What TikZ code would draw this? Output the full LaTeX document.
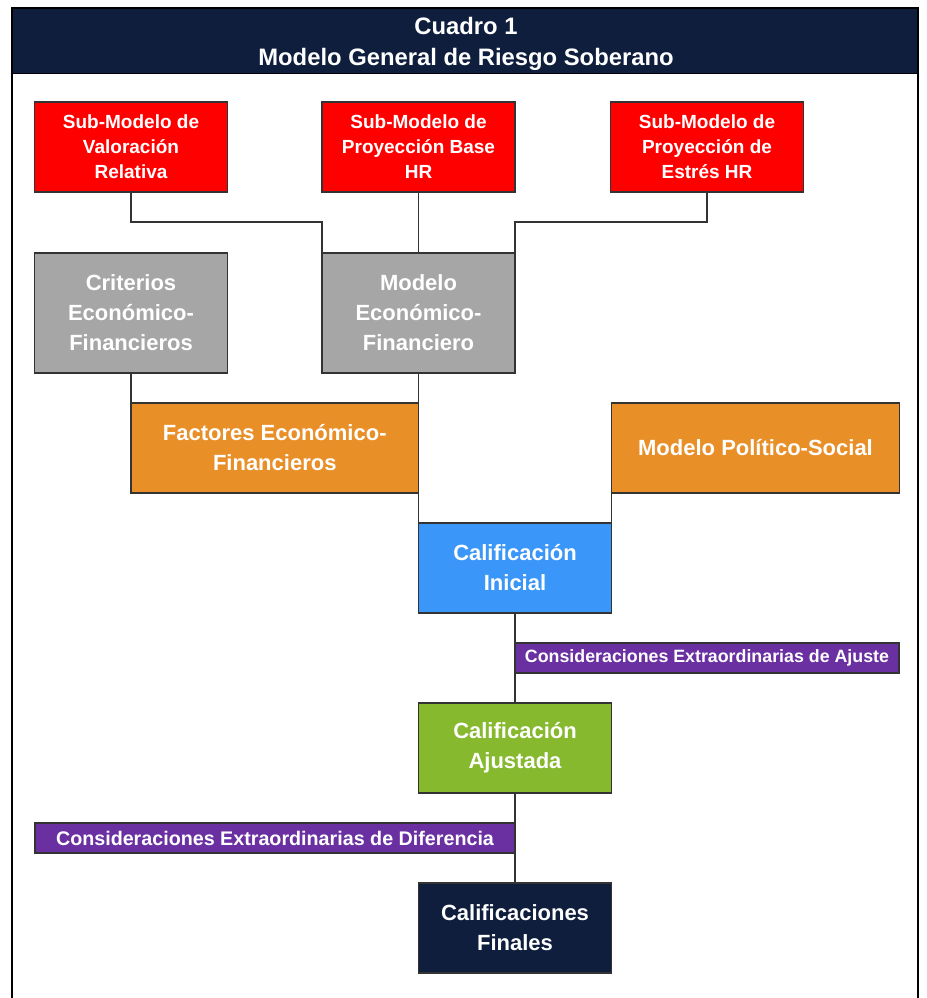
\documentclass[tikz,border=0pt]{standalone}
\usepackage{fontspec}
\setmainfont{Liberation Sans}
\usetikzlibrary{backgrounds}
\definecolor{navy}{HTML}{0E1E3C}
\definecolor{redbox}{HTML}{FF0000}
\definecolor{graybox}{HTML}{A6A6A6}
\definecolor{orangebox}{HTML}{E88F28}
\definecolor{bluebox}{HTML}{3A96F8}
\definecolor{greenbox}{HTML}{86B92E}
\definecolor{purplebox}{HTML}{6A2FA0}
\definecolor{edge}{HTML}{333333}
\tikzset{
  box/.style={draw=edge, line width=1.3pt, minimum width=193pt, minimum height=90pt,
    inner sep=0pt, outer sep=0pt, align=center, text=white,
    font=\fontsize{22}{30}\selectfont\bfseries},
  smalltext/.style={font=\fontsize{19}{25}\selectfont\bfseries},
  band/.style={draw=edge, line width=1.3pt, fill=purplebox, minimum height=30pt,
    inner sep=0pt, outer sep=0pt, text=white},
  link/.style={draw=edge, line width=1.3pt}
}
\begin{document}
\begin{tikzpicture}[x=1pt,y=-1pt]
\useasboundingbox (0,0) rectangle (926,998);
% frame and title
\fill[navy] (12,8) rectangle (918,73);
\draw[line width=2pt, black] (12,1010) -- (12,8) -- (918,8) -- (918,1010);
\draw[line width=1pt, black] (12,73) -- (918,73);
\node[text=white, align=center, font=\fontsize{23.8}{31}\selectfont\bfseries] (title) at (466,44)
  {Cuadro 1\\Modelo General de Riesgo Soberano};
% red boxes
\node[box, smalltext, fill=redbox] (r1) at (131,147) {Sub-Modelo de\\Valoración\\Relativa};
\node[box, smalltext, fill=redbox] (r2) at (418.5,147) {Sub-Modelo de\\Proyección Base\\HR};
\node[box, smalltext, fill=redbox] (r3) at (707,147) {Sub-Modelo de\\Proyección de\\Estrés HR};
% gray boxes
\node[box, fill=graybox, minimum height=120pt] (g1) at (131,313) {Criterios\\Económico-\\Financieros};
\node[box, fill=graybox, minimum height=120pt] (g2) at (418.5,313) {Modelo\\Económico-\\Financiero};
% orange boxes
\node[box, fill=orangebox, minimum width=287.5pt] (o1) at (274.75,448) {Factores Económico-\\Financieros};
\node[box, fill=orangebox, minimum width=288pt] (o2) at (755.5,448) {Modelo Político-Social};
% ratings
\node[box, fill=bluebox] (ci) at (515,568) {Calificación\\Inicial};
\node[band, minimum width=384pt, font=\fontsize{17.8}{20}\selectfont\bfseries] (p1) at (707,658) {Consideraciones Extraordinarias de Ajuste};
\node[box, fill=greenbox] (ca) at (515,748) {Calificación\\Ajustada};
\node[band, minimum width=480pt, font=\fontsize{19.7}{20}\selectfont\bfseries] (p2) at (275,838) {Consideraciones Extraordinarias de Diferencia};
\node[box, fill=navy] (cf) at (515,928) {Calificaciones\\Finales};
% connectors
\begin{scope}[on background layer]
\draw[link] (r1.south) -- ++(0,30) -| (g2.north west);
\draw[link] (r2.south) -- (g2.north);
\draw[link] (r3.south) -- ++(0,30) -| (g2.north east);
\draw[link] (g1.south) -- (o1.north west);
\draw[link] (g2.south) -- (ci.north west);
\draw[link] (o2.south west) -- (ci.north east);
\draw[link] (ci.south) -- (ca.north);
\draw[link] (ca.south) -- (cf.north);
\end{scope}
\end{tikzpicture}
\end{document}
